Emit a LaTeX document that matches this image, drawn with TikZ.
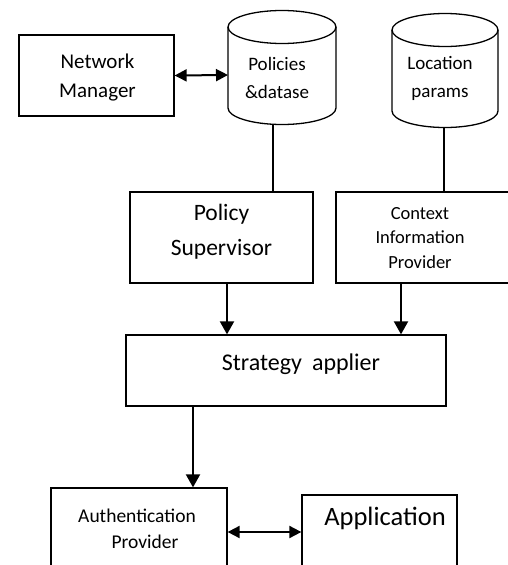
\documentclass[tikz,border=0pt]{standalone}
\usepackage{fontspec}
\setmainfont{Carlito}
\usetikzlibrary{arrows.meta}
\begin{document}
\begin{tikzpicture}[x=1pt,y=-1pt,
  box/.style={draw, line width=1.3pt, inner sep=0pt},
  cyl/.style={draw, line width=1.3pt},
  txt/.style={align=center, inner sep=0pt, anchor=base},
  conn/.style={line width=1.1pt},
  arr/.style={line width=2pt, -{Triangle[length=13pt,width=14pt]}},
  darr/.style={line width=2pt, {Triangle[length=12pt,width=12pt]}-{Triangle[length=12pt,width=12pt]}},
]
\clip (0,0) rectangle (508,565);
% boxes
\node[box, minimum width=155pt, minimum height=81pt] (nm) at (96.5,75.5) {};
\node[box, minimum width=183pt, minimum height=91pt] (ps) at (221.5,237.5) {};
\node[box, minimum width=176pt, minimum height=91pt] (cip) at (424,237.5) {};
\node[box, minimum width=320pt, minimum height=71pt] (sa) at (286,370.5) {};
\node[box, minimum width=176pt, minimum height=87pt] (ap) at (139,531.5) {};
\node[box, minimum width=155pt, minimum height=80pt] (app) at (379.5,535) {};
% cylinders
\path[cyl] (228,27) -- (228,108) arc[start angle=180,end angle=0,x radius=54,y radius=16.5] -- (336,27);
\path[cyl] (282,27) ellipse [x radius=54, y radius=16.5];
\path[cyl] (392,30) -- (392,111) arc[start angle=180,end angle=0,x radius=53,y radius=16.5] -- (498,30);
\path[cyl] (445,30) ellipse [x radius=53, y radius=16.5];
\coordinate (polL) at (228,75);
\coordinate (polB) at (273,124.3);
\coordinate (locB) at (444,127.5);
% texts (anchor base = baseline of last line)
\node[txt, font=\fontsize{21}{29}\selectfont] (nmt) at (97.5,97) {Network\\Manager};
\node[txt, font=\fontsize{19}{28}\selectfont] (polt) at (277,98) {Policies\\\&datase};
\node[txt, font=\fontsize{19}{28}\selectfont] (loct) at (440,97) {Location\\params};
\node[txt, font=\fontsize{23.5}{35}\selectfont] (pst) at (221.5,255) {Policy\\Supervisor};
\node[txt, font=\fontsize{18.5}{24.5}\selectfont] (cipt) at (420,268) {Context\\Information\\Provider};
\node[txt, font=\fontsize{24}{30}\selectfont] (sat) at (301,370) {Strategy\hspace{10pt}applier};
\node[txt, font=\fontsize{19.5}{26}\selectfont] (apt) at (137,548) {Authentication\\\hspace*{16pt}Provider};
\node[txt, font=\fontsize{26.5}{32}\selectfont] (appt) at (385,525) {Application};
% connectors
\draw[darr] (nm.east) -- (polL);
\draw[conn] (polB) -- (ps.north -| polB);
\draw[conn] (locB) -- (cip.north -| locB);
\coordinate (psa) at (227,283);
\coordinate (cipa) at (401,283);
\draw[arr] (ps.south -| psa) -- (sa.north -| psa);
\draw[arr] (cip.south -| cipa) -- (sa.north -| cipa);
\coordinate (saa) at (193,406);
\draw[arr] (sa.south -| saa) -- (ap.north -| saa);
\draw[darr] (ap.east |- 0,532) -- (app.west |- 0,532);
\end{tikzpicture}
\end{document}
